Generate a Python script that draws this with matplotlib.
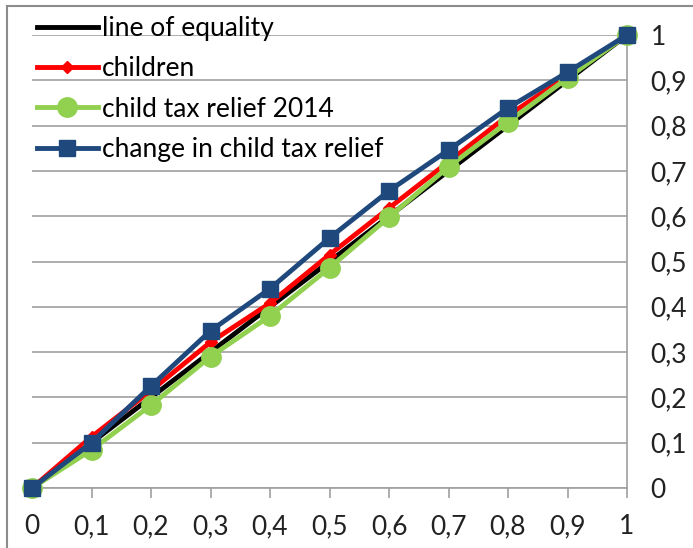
import matplotlib
matplotlib.use("Agg")
import matplotlib.pyplot as plt
from matplotlib.patches import Rectangle

deciles = [0, 0.1, 0.2, 0.3, 0.4, 0.5, 0.6, 0.7, 0.8, 0.9, 1.0]
equality = [0, 0.1, 0.2, 0.3, 0.4, 0.5, 0.6, 0.7, 0.8, 0.9, 1.0]
children = [0, 0.113, 0.215, 0.322, 0.408, 0.515, 0.618, 0.72, 0.822, 0.91, 1.0]
ctr2014 = [0, 0.084, 0.183, 0.29, 0.38, 0.486, 0.598, 0.709, 0.808, 0.905, 1.0]
change = [0, 0.1, 0.225, 0.347, 0.44, 0.552, 0.656, 0.746, 0.839, 0.918, 1.0]
ticks = [0, 0.1, 0.2, 0.3, 0.4, 0.5, 0.6, 0.7, 0.8, 0.9, 1.0]
tick_labels = ["0", "0,1", "0,2", "0,3", "0,4", "0,5", "0,6", "0,7", "0,8", "0,9", "1"]
names = ["line of equality", "children", "child tax relief 2014", "change in child tax relief"]

plt.rcParams['font.family'] = ['Lato', 'DejaVu Sans']
FS = 19
LW = 3.5
W, H = 693, 548
fig = plt.figure(figsize=(W / 100, H / 100), dpi=100)
fig.patch.set_facecolor("white")
fig.patches.append(Rectangle((7 / W, -0.1), 2, 1 - 6 / H + 0.1, transform=fig.transFigure,
                             fill=False, edgecolor="#8c8c8c", linewidth=1.5))

ax = fig.add_axes([32 / W, (H - 488) / H, (627 - 32) / W, (488 - 35) / H])
ax.set_xlim(0, 1)
ax.set_ylim(0, 1)

ax.plot(deciles, equality, color="black", lw=LW, label=names[0], clip_on=False, zorder=3)
ax.plot(deciles, children, color="#ff0000", lw=LW, marker="D", ms=6, label=names[1], clip_on=False, zorder=4)
ax.plot(deciles, ctr2014, color="#92d050", lw=LW, marker="o", ms=14, label=names[2], clip_on=False, zorder=5)
ax.plot(deciles, change, color="#1f497d", lw=LW, marker="s", ms=11, label=names[3], clip_on=False, zorder=6)

for s in ["left", "top"]:
    ax.spines[s].set_visible(False)
for s in ["right", "bottom"]:
    ax.spines[s].set_color("#a0a0a0")
    ax.spines[s].set_linewidth(1.2)

ax.set_xticks(ticks)
ax.set_xticklabels(tick_labels, fontsize=FS)
ax.set_yticks(ticks)
ax.set_yticklabels(tick_labels, fontsize=FS)
ax.yaxis.tick_right()
ax.tick_params(axis="x", direction="out", length=7, width=1.2, color="#a0a0a0", pad=12, labelcolor="#222222")
ax.tick_params(axis="y", length=0, pad=17, labelcolor="#222222")
for lbl in ax.get_yticklabels():
    lbl.set_horizontalalignment("left")
ax.grid(axis="y", color="#a0a0a0", lw=1.2)
ax.set_axisbelow(True)

fig.legend(loc="upper left", bbox_to_anchor=(37 / W, 1 - 16 / H), frameon=False, fontsize=FS,
           handlelength=2.3, handletextpad=0.15, labelspacing=0.58, borderpad=0, borderaxespad=0)

fig.savefig("out.png", dpi=100)
